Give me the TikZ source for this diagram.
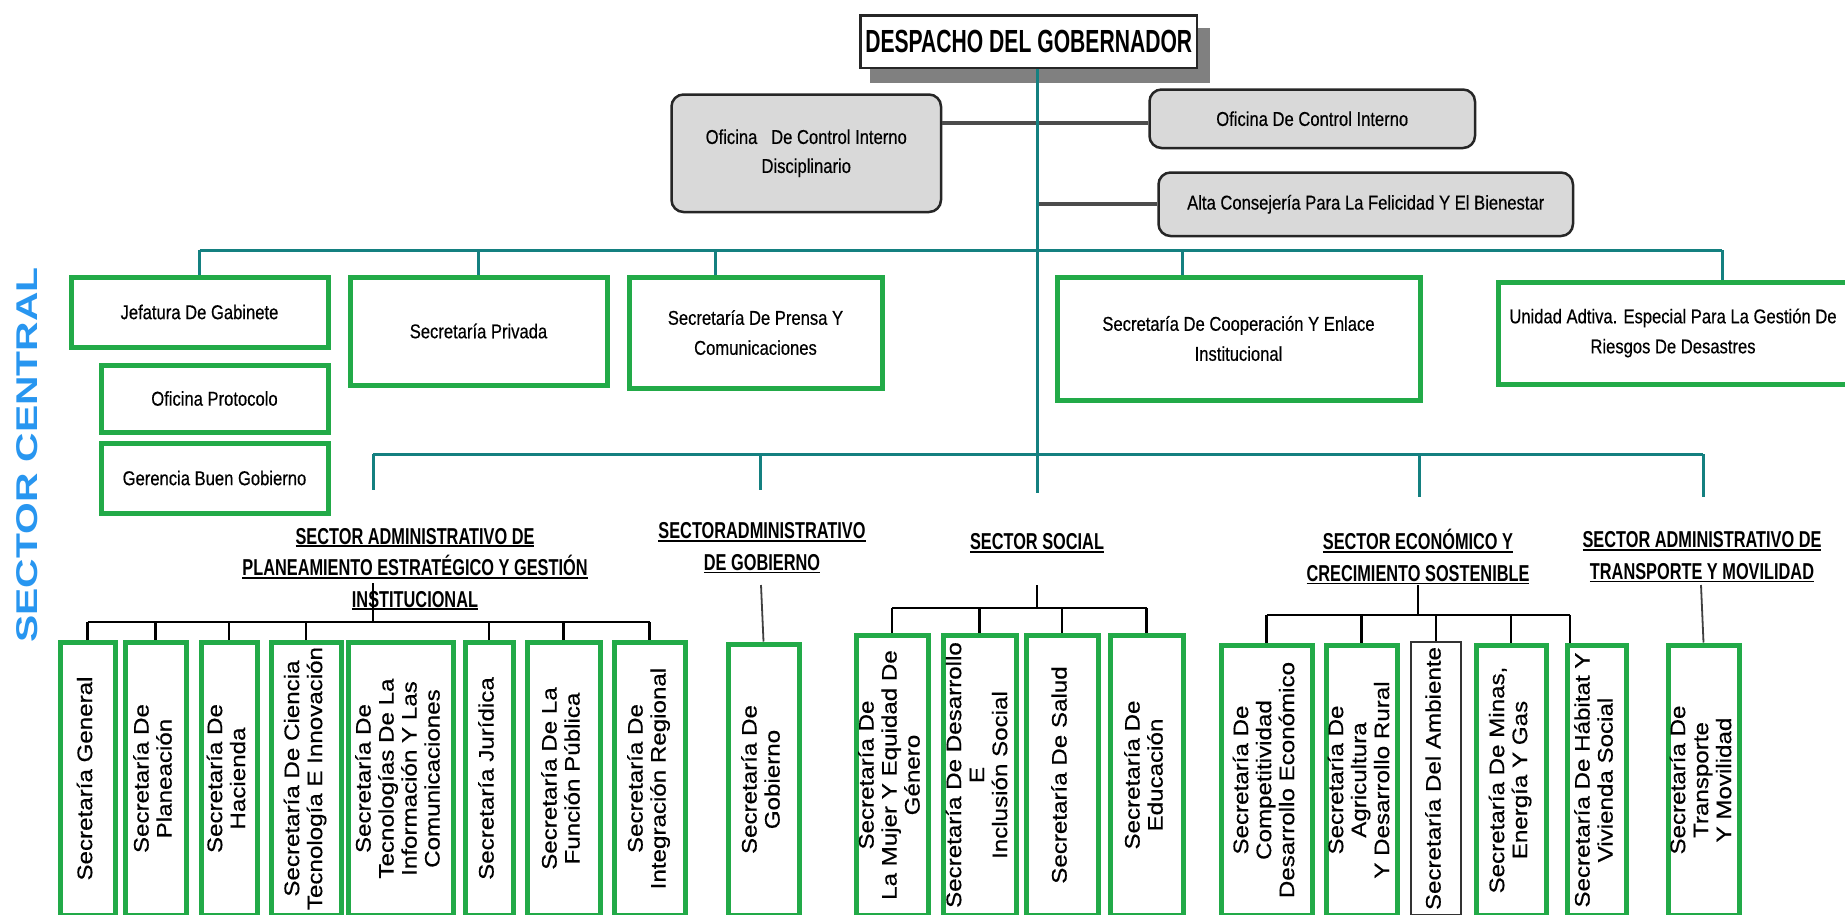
\documentclass[tikz,border=0pt]{standalone}
\usepackage{fontspec}
\usepackage{graphicx}
\setmainfont{Liberation Sans}
\newfontfamily\narfont[FakeStretch=0.83,FakeBold=0.4]{Liberation Sans}
\newfontfamily\labfont[FakeStretch=0.71]{Liberation Sans}
\newfontfamily\despfont[FakeStretch=0.66]{Liberation Sans}
\newfontfamily\vfont[FakeStretch=1.15,FakeBold=0.5]{Liberation Sans}
\newfontfamily\scfont[FakeStretch=1.36]{Liberation Sans}
\definecolor{gbgreen}{RGB}{34,170,72}
\definecolor{tealc}{RGB}{20,128,128}
\definecolor{scblue}{RGB}{40,150,240}
\definecolor{boxgray}{RGB}{217,217,217}
\newcommand\myul[1]{\setbox0=\hbox{#1}\rlap{\rule[-3pt]{\wd0}{1.6pt}}\box0}
\newcommand\vt[1]{\rotatebox{90}{\begin{tabular}{@{}c@{}}#1\end{tabular}}}
\begin{document}
\begin{tikzpicture}[x=1pt,y=-1pt,
  gpos/.style n args={4}{anchor=north west, at={(#1+2.5,#2+2.5)}, minimum width={#3-#1-5}, minimum height={#4-#2-5}},
  rpos/.style n args={4}{anchor=north west, at={(#1+1.25,#2+1.25)}, minimum width={#3-#1-2.5}, minimum height={#4-#2-2.5}},
  gbox/.style={draw=gbgreen, line width=5pt, fill=white, inner sep=1pt, align=center, font=\narfont\fontsize{20}{30}\selectfont},
  vbox/.style={draw=gbgreen, line width=5pt, fill=white, inner sep=0pt, font=\vfont\fontsize{21}{23}\selectfont},
  kbox/.style={draw=black!80, line width=2pt, fill=white, inner sep=0pt, font=\vfont\fontsize{21}{23}\selectfont},
  rbox/.style={draw=black!85, line width=2.5pt, fill=boxgray, rounded corners=12pt, align=center, inner sep=1pt, font=\narfont\fontsize{20}{29}\selectfont},
  lab/.style={align=center, inner sep=0pt, font=\labfont\bfseries\fontsize{23}{31.5}\selectfont},
  tl/.style={draw=tealc, line width=3pt},
  gl/.style={draw=black!70, line width=4pt},
  bk/.style={draw=black, line width=2.5pt},
  bk2/.style={draw=black!75, line width=1.8pt}]
\useasboundingbox (0,0) rectangle (1845,914);
\fill[white] (0,0) rectangle (1845,914);

% ---- top ----
\fill[black!50] (870,28) rectangle (1210,83);
\node[rpos={858}{13}{1197}{68}, draw=black!85, line width=2.5pt, fill=white, inner sep=1pt,
  font=\despfont\bfseries\fontsize{32}{36}\selectfont] (desp) {DESPACHO DEL GOBERNADOR};
\node[rbox, rpos={669}{92}{941}{212}] (ocid) {Oficina \ \ De Control Interno\\Disciplinario};
\node[rbox, rpos={1147}{87}{1475}{148}] (oci) {Oficina De Control Interno};
\node[rbox, rpos={1156}{170}{1573}{236}] (alta) {Alta Consejería Para La Felicidad Y El Bienestar};

% ---- first row ----
\node[gbox, gpos={66}{272}{328}{347}] (jef) {Jefatura De Gabinete};
\node[gbox, gpos={96}{360}{328}{432}] (prot) {Oficina Protocolo};
\node[gbox, gpos={96}{438}{328}{513}] (ger) {Gerencia Buen Gobierno};
\node[gbox, gpos={345}{272}{607}{385}] (priv) {Secretaría Privada};
\node[gbox, gpos={624}{272}{882}{388}] (pren) {Secretaría De Prensa Y\\Comunicaciones};
\node[gbox, gpos={1052}{272}{1420}{400}] (coop) {Secretaría De Cooperación Y Enlace\\Institucional};
\node[gbox, gpos={1493}{277}{1848}{384}] (uni) {Unidad Adtiva. Especial Para La Gestión De\\Riesgos De Desastres};

% ---- side label ----
\node[rotate=90, inner sep=0pt, text=scblue, font=\scfont\bfseries\fontsize{30}{32}\selectfont] (sc) at (27,455) {SECTOR CENTRAL};

% ---- sector labels ----
\node[lab] (l1) at (415,569) {\myul{SECTOR ADMINISTRATIVO DE}\\\myul{PLANEAMIENTO ESTRATÉGICO Y GESTIÓN}\\\myul{INSTITUCIONAL}};
\node[lab] (l2) at (762,548) {\myul{SECTORADMINISTRATIVO}\\\myul{DE GOBIERNO}};
\node[lab] (l3) at (1037,543) {\myul{SECTOR SOCIAL}};
\node[lab] (l4) at (1418,557) {\myul{SECTOR ECONÓMICO Y}\\\myul{CRECIMIENTO SOSTENIBLE}};
\node[lab] (l5) at (1702,557) {\myul{SECTOR ADMINISTRATIVO DE}\\\myul{TRANSPORTE Y MOVILIDAD}};

% ---- bottom boxes ----
\node[vbox, gpos={55}{637}{115}{915}] (sg) {\vt{Secretaría General}};
\node[vbox, gpos={120}{637}{186}{915}] (splan) {\vt{Secretaría De\\Planeación}};
\node[vbox, gpos={196}{637}{257}{915}] (shac) {\vt{Secretaría De\\Hacienda}};
\node[vbox, gpos={266}{637}{341}{915}] (scien) {\vt{Secretaría De Ciencia\\Tecnología E Innovación}};
\node[vbox, gpos={343}{637}{453}{915}] (stic) {\vt{Secretaría De\\Tecnologías De La\\Información Y Las\\Comunicaciones}};
\node[vbox, gpos={460}{637}{513}{915}] (sjur) {\vt{Secretaría Jurídica}};
\node[vbox, gpos={522}{637}{600}{915}] (sfun) {\vt{Secretaría De La\\Función Pública}};
\node[vbox, gpos={609}{637}{685}{915}] (sint) {\vt{Secretaría De\\Integración Regional}};

\node[vbox, gpos={723}{639}{799}{915}] (sgob) {\vt{Secretaría De\\Gobierno}};

\node[vbox, gpos={851}{630}{928}{915}] (smuj) {\vt{Secretaría De\\La Mujer Y Equidad De\\Género}};
\node[vbox, gpos={938}{630}{1016}{915}] (sdes) {\vt{Secretaría De Desarrollo\\E\\Inclusión Social}};
\node[vbox, gpos={1021}{630}{1098}{915}] (ssal) {\vt{Secretaría De Salud}};
\node[vbox, gpos={1105}{630}{1183}{915}] (sedu) {\vt{Secretaría De\\Educación}};

\node[vbox, gpos={1216}{640}{1312}{915}] (scom) {\vt{Secretaría De\\Competitividad\\Desarrollo Económico}};
\node[vbox, gpos={1321}{640}{1397}{915}] (sagr) {\vt{Secretaría De\\Agricultura\\Y Desarrollo Rural}};
\node[kbox, rpos={1409}{640}{1461}{915}] (samb) {\vt{Secretaría Del Ambiente}};
\node[vbox, gpos={1471}{640}{1546}{915}] (smin) {\vt{Secretaría De Minas,\\Energía Y Gas}};
\node[vbox, gpos={1562}{640}{1626}{915}] (shab) {\vt{Secretaría De Hábitat Y\\Vivienda Social}};

\node[vbox, gpos={1663}{640}{1739}{915}] (stra) {\vt{Secretaría De\\Transporte\\Y Movilidad}};

% ---- coordinates ----
\coordinate (trunk) at (1037,493);
\coordinate (bar0) at (1037,250);
\coordinate (bar1) at (1037,454);
\coordinate (c1) at (0,123);
\coordinate (pD) at (715,0);
\coordinate (cD) at (1182,0);
\coordinate (uD) at (1722,0);
\coordinate (d1) at (373,490);
\coordinate (d2) at (760,490);
\coordinate (d4) at (1419,497);
\coordinate (d5) at (1703,497);
\coordinate (g1top) at (373,583);
\coordinate (g1bar) at (373,622);
\coordinate (g2top) at (761,585);
\coordinate (g3top) at (1037,585);
\coordinate (g3bar) at (1037,608);
\coordinate (g4top) at (1418,585);
\coordinate (g4bar) at (1418,615);
\coordinate (hD) at (1570,0);
\coordinate (g5top) at (1701,585);

% ---- gray connectors ----
\draw[gl] (ocid.east |- c1) -- (oci.west |- c1);
\draw[gl] (trunk |- alta.west) -- (alta.west);

% ---- teal connectors ----
\draw[tl] (trunk |- desp.south) -- (trunk);
\draw[tl] (jef.north |- bar0) -- (uD |- bar0);
\draw[tl] (jef.north |- bar0) -- (jef.north);
\draw[tl] (priv.north |- bar0) -- (priv.north);
\draw[tl] (pD |- bar0) -- (pD |- pren.north);
\draw[tl] (cD |- bar0) -- (cD |- coop.north);
\draw[tl] (uD |- bar0) -- (uD |- uni.north);
\draw[tl] (d1 |- bar1) -- (d5 |- bar1);
\draw[tl] (d1 |- bar1) -- (d1);
\draw[tl] (d2 |- bar1) -- (d2);
\draw[tl] (d4 |- bar1) -- (d4);
\draw[tl] (d5 |- bar1) -- (d5);

% ---- black connectors ----
\draw[bk] (g1top) -- (g1bar);
\draw[bk] (sg.north |- g1bar) -- (sint.north |- g1bar);
\foreach \n in {sg,splan,shac,scien,sjur,sfun,sint} \draw[bk] (\n.north |- g1bar) -- (\n.north);
\draw[bk2] (g2top) -- (sgob.north);
\draw[bk] (g3top) -- (g3bar);
\draw[bk] (smuj.north |- g3bar) -- (sedu.north |- g3bar);
\foreach \n in {smuj,sdes,ssal,sedu} \draw[bk] (\n.north |- g3bar) -- (\n.north);
\draw[bk] (g4top) -- (g4bar);
\draw[bk] (scom.north |- g4bar) -- (hD |- g4bar);
\foreach \n in {scom,sagr,samb,smin} \draw[bk] (\n.north |- g4bar) -- (\n.north);
\draw[bk] (hD |- g4bar) -- (hD |- shab.north);
\draw[bk2] (g5top) -- (stra.north);
\end{tikzpicture}
\end{document}
